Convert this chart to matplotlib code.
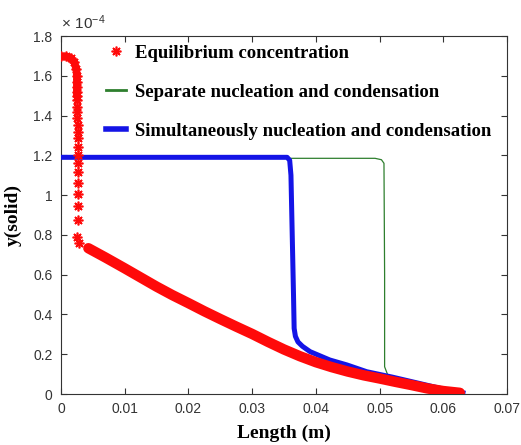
import matplotlib
matplotlib.use("Agg")
import matplotlib.pyplot as plt
from matplotlib.lines import Line2D

plt.rcParams["font.family"] = "Liberation Sans"
plt.rcParams["mathtext.default"] = "regular"

# y values are in units of 1e-4
# equilibrium concentration: top part (flat start, then sparse stars going down)
eq_top_x = [0.0, 0.0008, 0.0015, 0.0021, 0.0024, 0.0025, 0.0025, 0.0025, 0.0025, 0.0025]
eq_top_y = [1.697, 1.697, 1.690, 1.668, 1.635, 1.600, 1.570, 1.545, 1.520, 1.500]
eq_star_x = [0.0025, 0.0025, 0.0025, 0.0025, 0.0026, 0.0026, 0.0026, 0.0026, 0.0026,
             0.0026, 0.0026, 0.0026, 0.0026, 0.0026, 0.0026, 0.0025, 0.0028]
eq_star_y = [1.478, 1.444, 1.419, 1.386, 1.352, 1.319, 1.285, 1.243, 1.202,
             1.160, 1.118, 1.059, 1.005, 0.947, 0.875, 0.791, 0.758]
# equilibrium concentration: dense lower branch
eq_low_x = [0.0043, 0.007, 0.010, 0.0125, 0.015, 0.0175, 0.020, 0.0225, 0.025, 0.0275,
            0.030, 0.0325, 0.035, 0.0375, 0.040, 0.0425, 0.045, 0.0475, 0.050, 0.0525,
            0.055, 0.0575, 0.060, 0.0626]
eq_low_y = [0.733, 0.686, 0.632, 0.586, 0.540, 0.497, 0.457, 0.416, 0.377, 0.339,
            0.302, 0.262, 0.224, 0.190, 0.160, 0.135, 0.113, 0.094, 0.078, 0.061,
            0.045, 0.028, 0.015, 0.006]

# separate nucleation and condensation
sep_x = [0.0, 0.0493, 0.0503, 0.0507, 0.0508, 0.0508, 0.0513, 0.053, 0.058, 0.0615]
sep_y = [1.185, 1.185, 1.178, 1.160, 0.60, 0.137, 0.095, 0.065, 0.032, 0.010]

# simultaneous nucleation and condensation
sim_x = [0.0, 0.0355, 0.0359, 0.0361, 0.0363, 0.0365, 0.0366, 0.0368, 0.0372, 0.0379,
         0.0391, 0.0422, 0.0449, 0.048, 0.052, 0.056, 0.060, 0.0631]
sim_y = [1.190, 1.190, 1.175, 1.100, 0.800, 0.500, 0.330, 0.290, 0.262, 0.240,
         0.213, 0.171, 0.146, 0.112, 0.085, 0.055, 0.025, 0.006]

x_ticks = [0, 0.01, 0.02, 0.03, 0.04, 0.05, 0.06, 0.07]
x_tick_labels = ["0", "0.01", "0.02", "0.03", "0.04", "0.05", "0.06", "0.07"]
y_ticks = [0, 0.2, 0.4, 0.6, 0.8, 1.0, 1.2, 1.4, 1.6, 1.8]
y_tick_labels = ["0", "0.2", "0.4", "0.6", "0.8", "1", "1.2", "1.4", "1.6", "1.8"]

labels = ["Equilibrium concentration",
          "Separate nucleation and condensation",
          "Simultaneously nucleation and condensation"]

red = "#ff0a0a"
green = "#2e7f2e"
blue = "#1414e6"
star = (8, 2, 0)

fig = plt.figure(figsize=(5.21, 4.45), dpi=100)
ax = fig.add_axes([0.117, 0.1146, 0.856, 0.8045])

ax.plot(sep_x, sep_y, color=green, lw=0.9, zorder=2)
ax.plot(sim_x, sim_y, color=blue, lw=3.6, solid_joinstyle="round", zorder=3)
ax.plot(eq_top_x, eq_top_y, color=red, lw=5.5, solid_capstyle="round",
        solid_joinstyle="round", zorder=4)
ax.plot(eq_top_x + eq_star_x, eq_top_y + eq_star_y, ls="none", marker=star,
        ms=7, mec=red, mew=1.2, zorder=4)
ax.plot(eq_low_x, eq_low_y, color=red, lw=7.5, solid_capstyle="round",
        solid_joinstyle="round", zorder=4)

ax.set_xlim(0, 0.07)
ax.set_ylim(0, 1.8)
ax.set_xticks(x_ticks)
ax.set_xticklabels(x_tick_labels)
ax.set_yticks(y_ticks)
ax.set_yticklabels(y_tick_labels)
ax.tick_params(direction="in", top=True, right=True, length=4, width=0.8,
               color="#333333", labelcolor="#333333", labelsize=10, pad=6)
for s in ax.spines.values():
    s.set_color("#333333")
    s.set_linewidth(0.8)

ax.set_xlabel("Length (m)", family="Liberation Serif", weight="bold", fontsize=14, labelpad=6)
ax.set_ylabel("y(solid)", family="Liberation Serif", weight="bold", fontsize=14, labelpad=8)
ax.text(0.0, 1.012, r"$\times\ 10^{-4}$", transform=ax.transAxes, fontsize=11,
        color="#333333", ha="left", va="bottom")

handles = [
    Line2D([], [], ls="none", marker=star, ms=7, mec=red, mew=1.2),
    Line2D([], [], color=green, lw=2),
    Line2D([], [], color=blue, lw=4),
]
leg = ax.legend(handles, labels, loc="upper left", bbox_to_anchor=(0.084, 0.997),
                borderaxespad=0, frameon=False, handlelength=1.05, handletextpad=0.5,
                labelspacing=1.17, prop={"family": "Liberation Serif", "weight": "bold", "size": 13.5})

fig.savefig("out.png", dpi=100)
